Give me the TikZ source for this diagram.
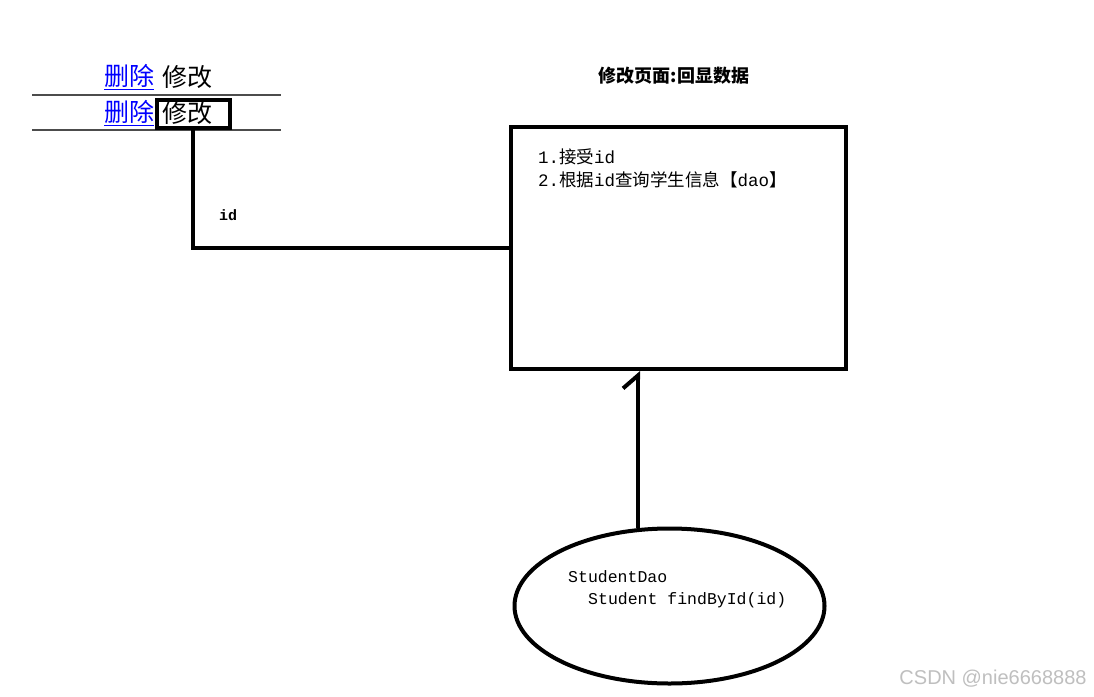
\documentclass[tikz,border=0pt]{standalone}
\usepackage{fontspec}
\setmainfont{Liberation Mono}
\newfontfamily\zh{Noto Sans CJK SC}
\newfontfamily\wm{Liberation Sans}
\usetikzlibrary{shapes.geometric,arrows.meta}

\begin{document}
\begin{tikzpicture}[x=1pt,y=-1pt,
    bold line/.style={line width=4pt},
    row text/.style={inner sep=0pt, font=\zh\fontsize{25}{28}\selectfont},
    link/.style={row text, text=blue},
    code text/.style={inner sep=0pt, anchor=west, font=\fontsize{16.5}{18}\selectfont}
]

    \fill[white] (0,0) rectangle (1094,696);
    \useasboundingbox (0,0) rectangle (1094,696);

    % table rows
    \draw[line width=1.5pt, black!70] (32,95) -- (281,95);
    \draw[line width=1.5pt, black!70] (32,130) -- (281,130);

    \node[link] (del1) at (129,77) {\underline{删除}};
    \node[row text] (edit1) at (187,77) {修改};
    \node[link] (del2) at (129,113) {\underline{删除}};
    \node[row text, draw, bold line, minimum width=73pt, minimum height=28pt] (edit2) at (193,113.5) {\makebox[62pt][l]{修改}};

    % edit page
    \node[font=\zh\bfseries\fontsize{18}{20}\selectfont, inner sep=0pt] (title) at (674,76) {修改页面:回显数据};
    \node[draw, bold line, minimum width=335pt, minimum height=242pt] (page) at (678.5,248) {};
    \node[code text, font=\fontsize{17.5}{20}\selectfont] (step1) at (538,157) {1.{\zh 接受}id};
    \node[code text, font=\fontsize{17.5}{20}\selectfont] (step2) at (538,180) {2.{\zh 根据}id{\zh 查询学生信息【}dao{\zh 】}};

    % dao
    \node[ellipse, draw, bold line, minimum width=310pt, minimum height=155pt] (dao) at (669.5,606) {};
    \node[code text] (daoname) at (568,577) {StudentDao};
    \node[code text] (daomethod) at (588,600) {Student findById(id)};

    \draw[bold line] (edit2.south) |- (page.west);
    \node[inner sep=0pt, font=\bfseries\fontsize{15}{18}\selectfont] (idlabel) at (228,215) {id};

    \draw[bold line, -{Straight Barb[left, length=13pt, width=30pt]}] (dao.112) -- (page.south -| dao.112);

    \node[inner sep=0pt, text=black!25, font=\wm\fontsize{20}{22}\selectfont] (mark) at (993,679) {CSDN @nie6668888};

\end{tikzpicture}
\end{document}
